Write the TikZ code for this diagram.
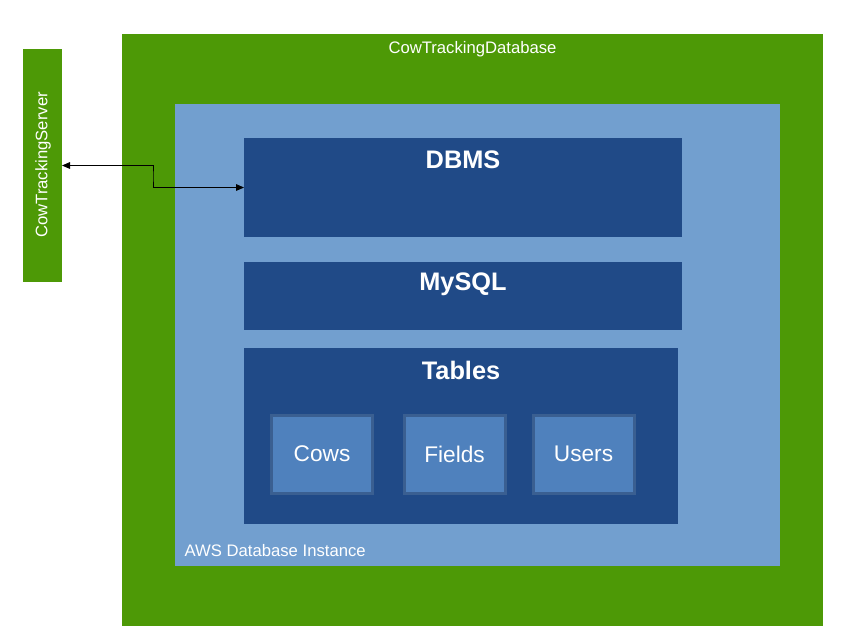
\documentclass[tikz,border=0pt]{standalone}
\usepackage{fontspec}
\setmainfont{Liberation Sans}
\usetikzlibrary{calc, arrows.meta}

\definecolor{cowgreen}{RGB}{77,153,6}
\definecolor{awsblue}{RGB}{114,159,207}
\definecolor{dbblue}{RGB}{32,74,135}
\definecolor{tblue}{RGB}{79,129,189}
\definecolor{tedge}{RGB}{58,95,145}

\begin{document}
\begin{tikzpicture}[x=0.75pt, y=-0.75pt,
  box/.style={inner sep=0, outer sep=0},
  title/.style={text=white, font=\fontsize{12.5}{15}\selectfont},
  head/.style={text=white, font=\fontsize{19}{22}\selectfont\bfseries},
  tbl/.style={box, fill=tblue, draw=tedge, line width=2.25pt, minimum width=75.75pt, minimum height=58.5pt,
    text=white, font=\fontsize{17}{20}\selectfont}]

\useasboundingbox (0,0) rectangle (841,640);

%Server
\node[box, fill=cowgreen, minimum width=29.25pt, minimum height=174.75pt] (server) at (42.5,165.5) {};
\node[title, rotate=90] (servername) at (43,165) {CowTrackingServer};

%Database
\node[box, fill=cowgreen, minimum width=525.75pt, minimum height=444pt] (database) at (472.5,330) {};
\node[title] (dbname) at (472.5,49) {CowTrackingDatabase};

%% AWS instance
\node[box, fill=awsblue, minimum width=453.75pt, minimum height=346.5pt] (instance) at (477.5,335) {};
\node[title, anchor=west] (instname) at (180,551) {AWS Database Instance};

%% Layers
\node[box, fill=dbblue, minimum width=328.5pt, minimum height=74.25pt] (dbms) at (463,187.5) {};
\node[head] (dbmsname) at (463,160) {DBMS};
\node[box, fill=dbblue, minimum width=328.5pt, minimum height=51pt] (mysql) at (463,296) {};
\node[head] (mysqlname) at (463,284) {MySQL};
\node[box, fill=dbblue, minimum width=325.5pt, minimum height=132pt] (tables) at (461,436) {};
\node[head] (tablesname) at (461,370) {Tables};

%% Tables
\foreach \name/\x/\txt in {cows/322/Cows, fields/454.5/Fields, users/583.5/Users}
\node[tbl] (\name) at (\x,454) {\txt};

% Connection
\draw[{Triangle[length=6pt,width=5pt]}-{Triangle[length=6pt,width=5pt]}, semithick]
(server.east) -| ($(server.east)!.5!(dbms.west)$) |- (dbms.west);

\end{tikzpicture}
\end{document}
